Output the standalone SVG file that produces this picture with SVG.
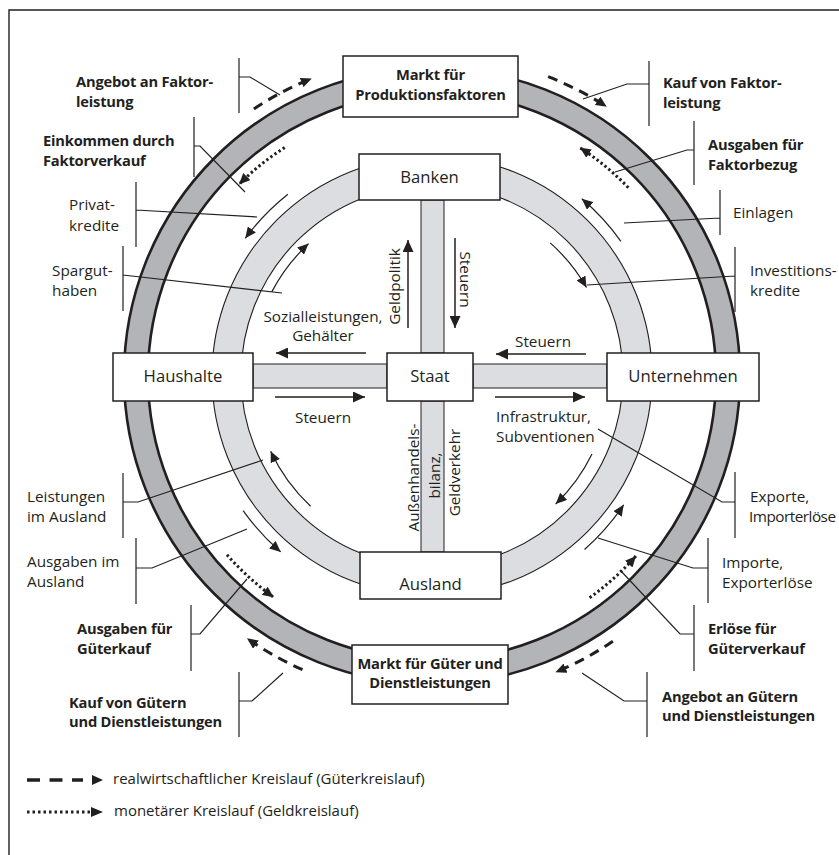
<svg xmlns="http://www.w3.org/2000/svg" width="839" height="855" viewBox="0 0 839 855">
<style>
text { font-family: "Open Sans","Liberation Sans",sans-serif; fill:#231f20; }
.r { font-size:15.3px; }
.n { font-size:16.7px; }
.b { font-size:14.7px; font-weight:700; letter-spacing:-0.2px; }
.l { font-size:15px; }
.box { fill:#fff; stroke:#231f20; stroke-width:1.5; }
.ldr { fill:none; stroke:#231f20; stroke-width:1.2; }
.arc { fill:none; stroke:#231f20; stroke-width:1.2; marker-end:url(#ha); }
.sa { stroke:#231f20; stroke-width:1.5; marker-end:url(#hs); }
.dash { fill:none; stroke:#231f20; stroke-width:3; stroke-dasharray:10 7; marker-end:url(#hd); }
.dot { fill:none; stroke:#231f20; stroke-width:3; stroke-dasharray:2.4 2.6; marker-end:url(#hd); }
.bar { fill:#dcdde0; stroke:#231f20; stroke-width:1; }
</style>
<defs>
<marker id="hs" markerUnits="userSpaceOnUse" markerWidth="13" markerHeight="11" refX="12" refY="5.5" orient="auto"><path d="M0,0 L12,5.5 L0,11 z" fill="#231f20"/></marker>
<marker id="ha" markerUnits="userSpaceOnUse" markerWidth="12" markerHeight="10" refX="11" refY="5" orient="auto"><path d="M0,0 L11,5 L0,10 z" fill="#231f20"/></marker>
<marker id="hd" markerUnits="userSpaceOnUse" markerWidth="12" markerHeight="10" refX="11" refY="5" orient="auto"><path d="M0,0 L11,5 L0,10 z" fill="#231f20"/></marker>
</defs>
<rect width="839" height="855" fill="#fff"/>
<path d="M9,855 V10 H839" fill="none" stroke="#231f20" stroke-width="1.4"/>

<g id="connectors">
  <g id="rings">
    <circle cx="432" cy="376" r="296" fill="none" stroke="#b3b4b7" stroke-width="24"/>
    <circle cx="432" cy="376" r="308" fill="none" stroke="#231f20" stroke-width="2.6"/>
    <circle cx="432" cy="376" r="284" fill="none" stroke="#231f20" stroke-width="2.6"/>
    <circle cx="432" cy="376" r="205.5" fill="none" stroke="#dcdde0" stroke-width="29"/>
    <circle cx="432" cy="376" r="220" fill="none" stroke="#231f20" stroke-width="1.1"/>
    <circle cx="432" cy="376" r="191" fill="none" stroke="#231f20" stroke-width="1.1"/>
  </g>
  <g id="bars">
    <rect class="bar" x="253" y="364" width="134" height="24"/>
    <rect class="bar" x="473" y="364" width="134" height="24"/>
    <rect class="bar" x="421" y="200" width="23" height="153"/>
    <rect class="bar" x="421" y="401" width="23" height="151"/>
  </g>
</g>

<g id="MarktFaktoren"><rect class="box" x="343" y="56" width="175" height="61"/>
  <text class="b" x="430.5" y="80" text-anchor="middle">Markt für</text>
  <text class="b" x="430.5" y="100" text-anchor="middle">Produktionsfaktoren</text></g>
<g id="Banken"><rect class="box" x="359" y="154" width="141" height="46"/>
  <text class="n" x="429.5" y="183" text-anchor="middle">Banken</text></g>
<g id="Haushalte"><rect class="box" x="113" y="353" width="140" height="48"/>
  <text class="n" x="183" y="382" text-anchor="middle">Haushalte</text></g>
<g id="Staat"><rect class="box" x="387" y="353" width="86" height="48"/>
  <text class="n" x="430" y="382" text-anchor="middle">Staat</text></g>
<g id="Unternehmen"><rect class="box" x="607" y="353" width="152" height="48"/>
  <text class="n" x="683" y="382" text-anchor="middle">Unternehmen</text></g>
<g id="Ausland"><rect class="box" x="360" y="552" width="141" height="47"/>
  <text class="n" x="430.5" y="590" text-anchor="middle">Ausland</text></g>
<g id="MarktGueter"><rect class="box" x="352" y="645" width="156" height="59"/>
  <text class="b" x="430" y="669" text-anchor="middle">Markt für Güter und</text>
  <text class="b" x="430" y="688" text-anchor="middle">Dienstleistungen</text></g>

<g id="flows">
  <line class="sa" x1="366" y1="353" x2="276" y2="353"/>
  <line class="sa" x1="275" y1="397" x2="365" y2="397"/>
  <line class="sa" x1="586" y1="354" x2="496" y2="354"/>
  <line class="sa" x1="495" y1="397" x2="585" y2="397"/>
  <line class="sa" x1="408" y1="328" x2="408" y2="240"/>
  <line class="sa" x1="455" y1="238" x2="455" y2="328"/>
  <path class="arc" d="M287.9,194.2 A232,232 0 0 0 245.3,238.3"/>
  <path class="arc" d="M271.9,291.6 A181,181 0 0 1 308.6,243.6"/>
  <path class="arc" d="M620.9,241.3 A232,232 0 0 0 581.8,198.8"/>
  <path class="arc" d="M550.2,242.9 A178,178 0 0 1 586.5,287.5"/>
  <path class="arc" d="M592,454 A178,178 0 0 1 555.7,504"/>
  <path class="arc" d="M584.5,549.5 A231,231 0 0 0 623.7,504.8"/>
  <path class="arc" d="M310.6,506.2 A178,178 0 0 1 270.7,451.2"/>
  <path class="arc" d="M243.1,510.7 A232,232 0 0 0 280.7,551.9"/>
  <path class="dash" d="M253.9,108.9 A321,321 0 0 1 311.8,78.4"/>
  <path class="dash" d="M548.1,76.7 A321,321 0 0 1 606.8,106.8"/>
  <path class="dash" d="M612.9,641.2 A321,321 0 0 1 555.4,672.3"/>
  <path class="dash" d="M302.5,669.7 A321,321 0 0 1 247,638.3"/>
  <path class="dot" d="M284.7,147.4 A272,272 0 0 0 239,184.4"/>
  <path class="dot" d="M628.3,187.7 A272,272 0 0 0 579.8,147.6"/>
  <path class="dot" d="M589.6,597.7 A272,272 0 0 0 636,555.9"/>
  <path class="dot" d="M227,554.8 A272,272 0 0 0 273.7,597.2"/>
</g>

<g id="leaders">
  <path class="ldr" d="M239,58 V113 M239,77 H250 L280,95"/>
  <path class="ldr" d="M194,117 V177 M194,146 H200 L245,192"/>
  <path class="ldr" d="M136,182 V247 M136,210 L257,217"/>
  <path class="ldr" d="M123,246 V311 M123,275 L282,293"/>
  <path class="ldr" d="M123,473 V538 M123,502 H138 L263,460"/>
  <path class="ldr" d="M136,538 V604 M136,568 H152 L247,529"/>
  <path class="ldr" d="M191,605 V671 M191,634 H200 L247,579"/>
  <path class="ldr" d="M239,672 V737 M239,701 H252 L283,673"/>
  <path class="ldr" d="M649,61 V126 M649,84 H627 L583,99"/>
  <path class="ldr" d="M694,121 V185 M694,150 H687 L615,172"/>
  <path class="ldr" d="M720,190 V235 M720,218 L624,223"/>
  <path class="ldr" d="M735,247 V312 M735,276 L587,285"/>
  <path class="ldr" d="M735,472 V538 M735,502 H722 L598,429"/>
  <path class="ldr" d="M708,538 V603 M708,568 H693 L598,538"/>
  <path class="ldr" d="M694,605 V671 M694,634 H680 L620,570"/>
  <path class="ldr" d="M647,672 V737 M647,701 H624 L582,673"/>
</g>

<g id="labels">
  <text class="b" x="76" y="87">Angebot an Faktor-</text>
  <text class="b" x="76" y="107">leistung</text>
  <text class="b" x="43" y="146">Einkommen durch</text>
  <text class="b" x="43" y="166">Faktorverkauf</text>
  <text class="b" x="663" y="88">Kauf von Faktor-</text>
  <text class="b" x="663" y="108">leistung</text>
  <text class="b" x="708" y="150">Ausgaben für</text>
  <text class="b" x="708" y="170">Faktorbezug</text>
  <text class="b" x="77" y="634">Ausgaben für</text>
  <text class="b" x="77" y="654">Güterkauf</text>
  <text class="b" x="69" y="708">Kauf von Gütern</text>
  <text class="b" x="69" y="727">und Dienstleistungen</text>
  <text class="b" x="708" y="634">Erlöse für</text>
  <text class="b" x="708" y="654">Güterverkauf</text>
  <text class="b" x="662" y="702">Angebot an Gütern</text>
  <text class="b" x="662" y="721">und Dienstleistungen</text>

  <text class="r" x="69" y="210">Privat-</text>
  <text class="r" x="69" y="231">kredite</text>
  <text class="r" x="52" y="276">Spargut-</text>
  <text class="r" x="52" y="296">haben</text>
  <text class="r" x="733" y="218">Einlagen</text>
  <text class="r" x="750" y="276">Investitions-</text>
  <text class="r" x="750" y="296">kredite</text>
  <text class="r" x="323" y="322" text-anchor="middle">Sozialleistungen,</text>
  <text class="r" x="323" y="341" text-anchor="middle">Gehälter</text>
  <text class="r" x="295" y="423">Steuern</text>
  <text class="r" x="515" y="347">Steuern</text>
  <text class="r" x="496" y="422">Infrastruktur,</text>
  <text class="r" x="496" y="442">Subventionen</text>
  <text class="r" x="27" y="502">Leistungen</text>
  <text class="r" x="27" y="522">im Ausland</text>
  <text class="r" x="27" y="567">Ausgaben im</text>
  <text class="r" x="27" y="587">Ausland</text>
  <text class="r" x="750" y="502">Exporte,</text>
  <text class="r" x="749" y="522" style="letter-spacing:-0.5px">Importerlöse</text>
  <text class="r" x="722" y="568">Importe,</text>
  <text class="r" x="722" y="588">Exporterlöse</text>
  <text class="r" transform="translate(400,286.5) rotate(-90)" text-anchor="middle">Geldpolitik</text>
  <text class="r" transform="translate(460,279.5) rotate(90)" text-anchor="middle">Steuern</text>
  <text class="r" transform="translate(419,477.5) rotate(-90)" text-anchor="middle">Außenhandels-</text>
  <text class="r" transform="translate(440,475.5) rotate(-90)" text-anchor="middle">bilanz,</text>
  <text class="r" transform="translate(460,472.5) rotate(-90)" text-anchor="middle">Geldverkehr</text>
</g>

<g id="legend">
  <line x1="27" y1="780" x2="83" y2="780" stroke="#231f20" stroke-width="3.5" stroke-dasharray="13 9.5"/>
  <polygon points="92,775 103,780 92,785" fill="#231f20"/>
  <text class="l" x="113" y="784">realwirtschaftlicher Kreislauf (Güterkreislauf)</text>
  <line x1="27" y1="812" x2="92" y2="812" stroke="#231f20" stroke-width="3" stroke-dasharray="2.5 3"/>
  <polygon points="91,807 103,812 91,817" fill="#231f20"/>
  <text class="l" x="114" y="816">monetärer Kreislauf (Geldkreislauf)</text>
</g>
</svg>
